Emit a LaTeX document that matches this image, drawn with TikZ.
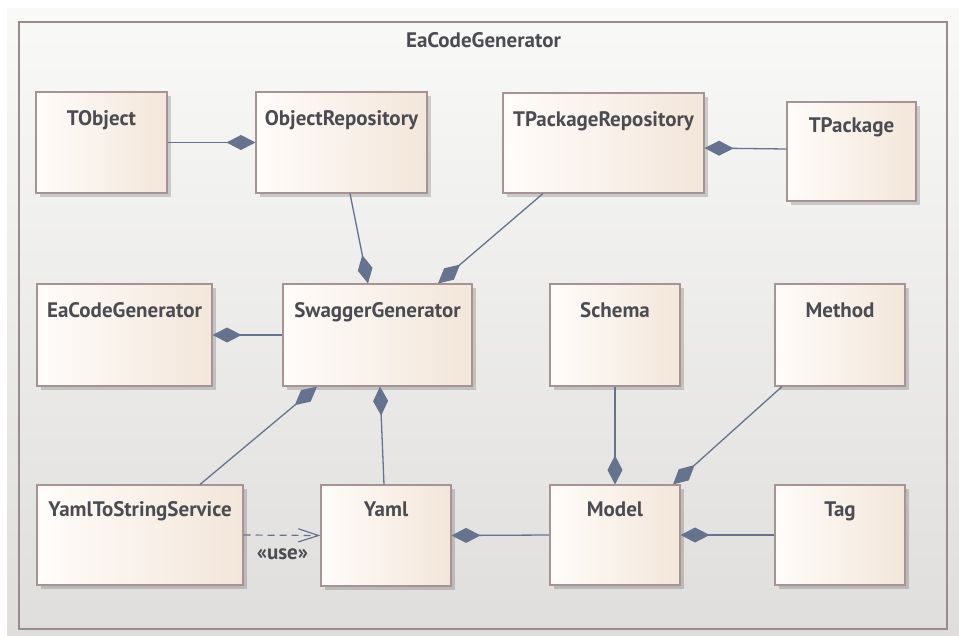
\documentclass[tikz,border=0pt]{standalone}
\usepackage{fontspec}
\setmainfont{PT Sans}
\usetikzlibrary{arrows.meta,calc,shadows}

\definecolor{bgTop}{HTML}{F9F9F8}
\definecolor{bgBot}{HTML}{DFDEDC}
\definecolor{frameC}{HTML}{9C8B8B}
\definecolor{boxL}{HTML}{FFFCFA}
\definecolor{boxR}{HTML}{F3E6DA}
\definecolor{boxEdge}{HTML}{A69494}
\definecolor{lineC}{HTML}{66738F}
\definecolor{txtC}{HTML}{4A4C51}

\begin{document}
\begin{tikzpicture}[x=1pt,y=-1pt,
  cls/.style={rectangle, draw=boxEdge, line width=1.1pt,
    left color=boxL, right color=boxR, inner sep=0pt,
    drop shadow={shadow xshift=3.5pt, shadow yshift=-3.5pt,
      fill=black, opacity=0.17}},
  lbl/.style={anchor=base, inner sep=0pt, text=txtC,
    font=\fontsize{21pt}{24pt}\selectfont\bfseries},
  comp/.style={draw=lineC, line width=1.3pt,
    {Diamond[length=29pt 0, width=15pt 0, fill=lineC]}-},
  usedep/.style={draw=lineC, line width=1.2pt, dash pattern=on 7pt off 5pt,
    -{Straight Barb[length=20pt 0, width=13pt 0, line cap=round]}}
]
\useasboundingbox (0,0) rectangle (959,635);

% canvas and package frame
\fill[top color=bgTop, bottom color=bgBot] (7,8) rectangle (959,635);
\draw[frameC, line width=1.1pt] (19,22) rectangle (947,629);
\node[lbl] (pkgtitle) at (483.5,47) {EaCodeGenerator};

% classes
\node[cls, minimum width=131pt, minimum height=101pt] (tobject)  at (101.5,142.5) {};
\node[cls, minimum width=171pt, minimum height=101pt] (objrepo)  at (341.5,142.5) {};
\node[cls, minimum width=201pt, minimum height=100pt] (tpkgrepo) at (603.5,143)   {};
\node[cls, minimum width=129pt, minimum height=99pt]  (tpkg)     at (851.5,151.5) {};
\node[cls, minimum width=175pt, minimum height=102pt] (eacg)     at (124.5,335)   {};
\node[cls, minimum width=189pt, minimum height=102pt] (swagger)  at (377.5,335)   {};
\node[cls, minimum width=130pt, minimum height=102pt] (schema)   at (615,335)     {};
\node[cls, minimum width=130pt, minimum height=102pt] (method)   at (840,335)     {};
\node[cls, minimum width=206pt, minimum height=100pt] (yts)      at (140,535)     {};
\node[cls, minimum width=130pt, minimum height=101pt] (yaml)     at (386,535.5)   {};
\node[cls, minimum width=130pt, minimum height=100pt] (model)    at (615,535)     {};
\node[cls, minimum width=130pt, minimum height=100pt] (tag)      at (840,535)     {};

% class names
\node[lbl] (tobject-n)  at ($(tobject.north)+(0,34)$)  {TObject};
\node[lbl] (objrepo-n)  at ($(objrepo.north)+(0,34)$)  {ObjectRepository};
\node[lbl] (tpkgrepo-n) at ($(tpkgrepo.north)+(0,34)$) {TPackageRepository};
\node[lbl] (tpkg-n)     at ($(tpkg.north)+(0,31)$)     {TPackage};
\node[lbl] (eacg-n)     at ($(eacg.north)+(0,34)$)     {EaCodeGenerator};
\node[lbl] (swagger-n)  at ($(swagger.north)+(0,34)$)  {SwaggerGenerator};
\node[lbl] (schema-n)   at ($(schema.north)+(0,34)$)   {Schema};
\node[lbl] (method-n)   at ($(method.north)+(0,34)$)   {Method};
\node[lbl] (yts-n)      at ($(yts.north)+(0,32)$)      {YamlToStringService};
\node[lbl] (yaml-n)     at ($(yaml.north)+(0,32)$)     {Yaml};
\node[lbl] (model-n)    at ($(model.north)+(0,32)$)    {Model};
\node[lbl] (tag-n)      at ($(tag.north)+(0,32)$)      {Tag};

% compositions (diamond at the owner)
\draw[comp] (objrepo.west) -- (tobject.east);
\draw[comp] ($(tpkgrepo.east)+(0,5)$) -- ($(tpkg.west)+(0,-2.5)$);
\draw[comp] ($(swagger.north)+(-9.5,0)$) -- ($(objrepo.south)+(8.5,0)$);
\draw[comp] ($(swagger.north)+(60.5,0)$) -- ($(tpkgrepo.south)+(-60.5,0)$);
\draw[comp] (eacg.east) -- (swagger.west);
\draw[comp] ($(swagger.south)+(-60.5,0)$) -- ($(yts.north)+(60,0)$);
\draw[comp] ($(swagger.south)+(2.5,0)$) -- ($(yaml.north)+(-2,0)$);
\draw[comp] (model.north) -- (schema.south);
\draw[comp] ($(model.north)+(58,0)$) -- ($(method.south)+(-58,0)$);
\draw[comp] (yaml.east) -- (model.west);
\draw[comp] (model.east) -- (tag.west);

% usage dependency
\draw[usedep] (yts.east) -- (yaml.west);
\node[lbl] (use-n) at (282.5,559) {«use»};
\end{tikzpicture}
\end{document}
